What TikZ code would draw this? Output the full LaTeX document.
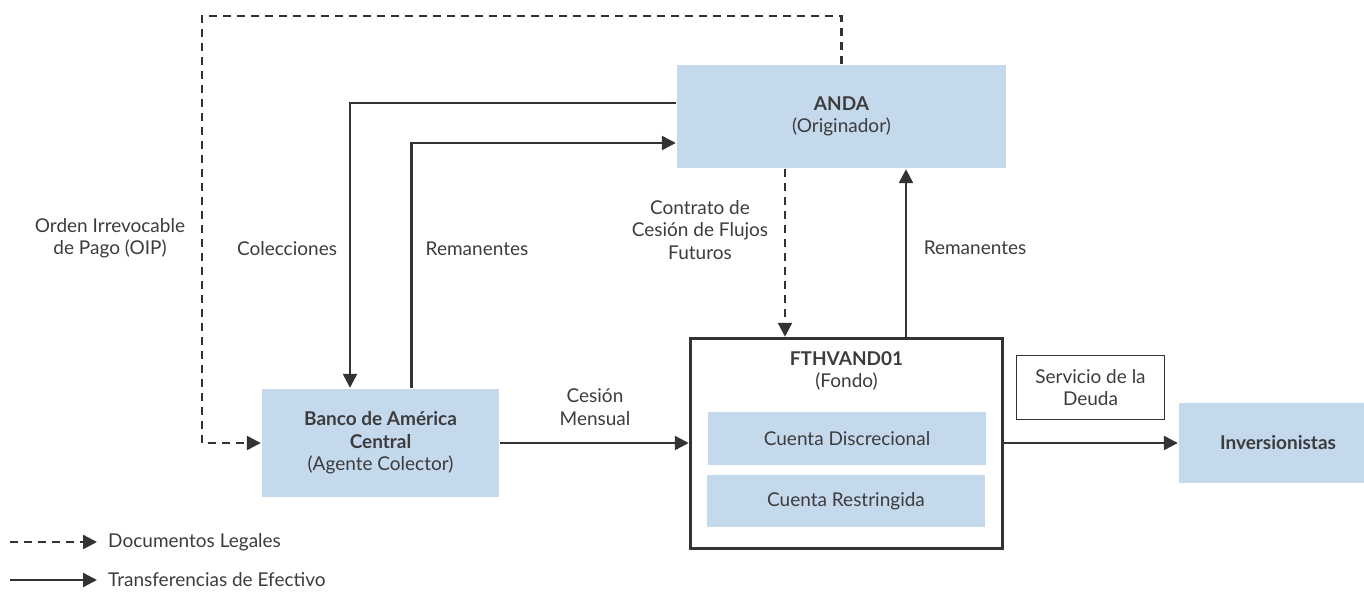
\documentclass[tikz,border=0pt]{standalone}
\usepackage{fontspec}
\setmainfont{Lato}
\usetikzlibrary{arrows.meta}
\definecolor{boxblue}{RGB}{197,217,237}
\definecolor{ink}{RGB}{51,51,51}
\definecolor{txt}{RGB}{60,60,60}

\begin{document}
\begin{tikzpicture}
	[x=1pt, y=-1pt, line width=2.4pt, color=ink, text=txt,
	font=\fontsize{19}{22.5}\selectfont,
	main/.style = {fill=boxblue, inner sep=0pt, align=center},
	lbl/.style = {align=center, inner sep=0pt},
	flow/.style = {-{Triangle[length=14pt, width=14pt]}},
	legal/.style = {flow, dash pattern=on 8pt off 6pt}]
	\clip (0,0) rectangle (1364,594);
	% boxes
	\node[main, minimum width=329pt, minimum height=103pt] (anda) at (841.5,116.5) {\textbf{ANDA}\\(Originador)};
	\node[main, minimum width=237pt, minimum height=108pt] (banco) at (380.5,443) {\textbf{Banco de América}\\\textbf{Central}\\(Agente Colector)};
	\node[draw, line width=3.5pt, minimum width=312pt, minimum height=210pt, inner sep=0pt] (fondo) at (846.5,443.5) {};
	\node[lbl] (fondotit) at (846.5,371) {\textbf{FTHVAND01}\\(Fondo)};
	\node[main, minimum width=278pt, minimum height=53pt] (disc) at (847,438.5) {Cuenta Discrecional};
	\node[main, minimum width=278pt, minimum height=52pt] (restr) at (846,501) {Cuenta Restringida};
	\node[draw, line width=1.6pt, minimum width=148pt, minimum height=64pt, align=center, inner sep=0pt] (serv) at (1090.5,387.5) {Servicio de la\\Deuda};
	\node[main, minimum width=198pt, minimum height=80pt] (inv) at (1278,443) {\textbf{Inversionistas}};
	% connectors
	\draw[flow] ([yshift=13.5pt]anda.west) -| ([xshift=-30.5pt]banco.north);
	\draw[flow] ([xshift=31pt]banco.north) |- ([yshift=-26.5pt]anda.west);
	\draw[legal] (anda.north) |- (202,16) |- (banco.west);
	\draw[legal] ([xshift=-56.5pt]anda.south) -- ([xshift=-61.5pt]fondo.north);
	\draw[flow] ([xshift=59.5pt]fondo.north) -- ([xshift=64.5pt]anda.south);
	\draw[flow] (banco.east) -- (banco.east -| fondo.west);
	\draw[flow] (fondo.east |- inv.west) -- (inv.west);
	% labels
	\node[lbl] (oip) at (110,238) {Orden Irrevocable\\de Pago (OIP)};
	\node[lbl] (colec) at (287,249) {Colecciones};
	\node[lbl] (reman1) at (477,249) {Remanentes};
	\node[lbl] (cesion) at (595,407) {Cesión\\Mensual};
	\node[lbl] (contrato) at (700,230) {Contrato de\\Cesión de Flujos\\Futuros};
	\node[lbl] (reman2) at (975,248) {Remanentes};
	% legend
	\coordinate (leg1) at (10,542);
	\coordinate (leg2) at (10,580);
	\node[lbl, anchor=west] (doclbl) at (107,542) {Documentos Legales};
	\node[lbl, anchor=west] (efelbl) at (107,580) {Transferencias de Efectivo};
	\draw[legal] (leg1) -- ([xshift=-10pt]doclbl.west |- leg1);
	\draw[flow] (leg2) -- ([xshift=-10pt]efelbl.west |- leg2);
\end{tikzpicture}
\end{document}
